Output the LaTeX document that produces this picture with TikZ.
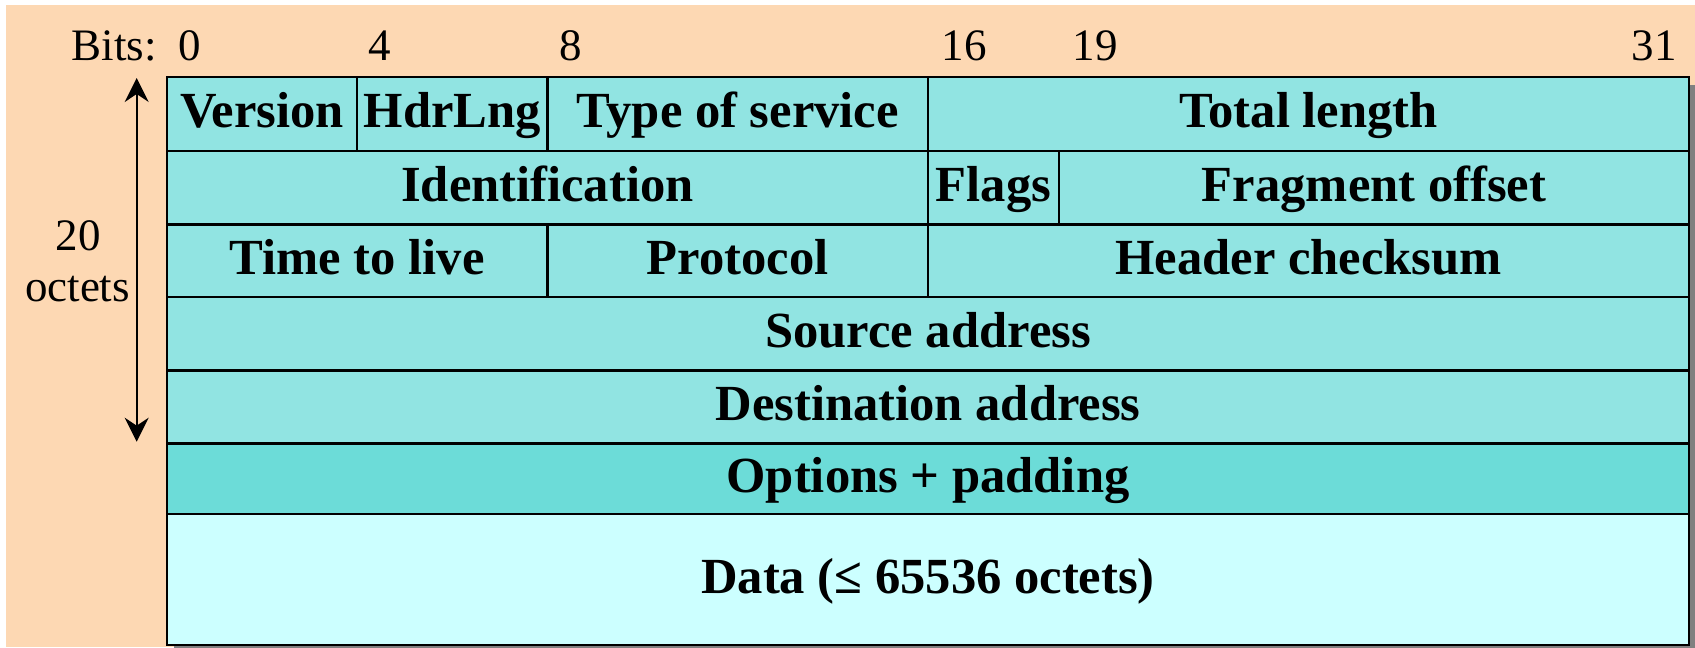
\documentclass[tikz,border=0pt]{standalone}
\usepackage{fontspec}
\setmainfont{Liberation Serif}
\usetikzlibrary{arrows.meta}
\definecolor{peach}{RGB}{253,216,179}
\definecolor{cellc}{RGB}{145,228,226}
\definecolor{optc}{RGB}{108,220,216}
\definecolor{datac}{RGB}{204,255,255}
\definecolor{shadowc}{RGB}{128,128,128}
\newcommand\ipcell[7]{\node[cell, fill=#6, minimum width={(#4-#2)*0.5pt}, minimum height={(#5-#3)*0.5pt}] (#1) at (#2,#3) {#7};}
\begin{document}
\begin{tikzpicture}[x=0.5pt,y=-0.5pt,
  cell/.style={draw=black, line width=1.2pt, rectangle, inner sep=0pt, anchor=north west,
    font=\fontsize{25.3}{30}\selectfont\bfseries, text height=17.5pt, text depth=4pt},
  bitlabel/.style={font=\fontsize{22.5}{27}\selectfont, inner sep=0pt, anchor=base},
  dimarrow/.style={line width=0.9pt, {Stealth[length=12pt,width=12pt,inset=4pt]}-{Stealth[length=12pt,width=12pt,inset=4pt]}}
]
\useasboundingbox (0,0) rectangle (1695,647);
\clip (0,0) rectangle (1695,647);
\fill[white] (0,0) rectangle (1695,647);
\fill[peach] (5.7,5.3) rectangle (1695,647);
\fill[shadowc] (174,85) rectangle (1700,660);
% row 1
\ipcell{ver}{165.7}{76}{356}{150}{cellc}{Version}
\ipcell{hdr}{356}{76}{546.3}{150}{cellc}{HdrLng}
\ipcell{tos}{546.3}{76}{926.8}{150}{cellc}{Type of service}
\ipcell{tlen}{926.8}{76}{1688}{150}{cellc}{Total length}
% row 2
\ipcell{ident}{165.7}{150}{926.8}{223.3}{cellc}{Identification}
\ipcell{flags}{926.8}{150}{1057.7}{223.3}{cellc}{Flags}
\ipcell{frag}{1057.7}{150}{1688}{223.3}{cellc}{Fragment offset}
% row 3
\ipcell{ttl}{165.7}{223.3}{546.3}{295.7}{cellc}{Time to live}
\ipcell{proto}{546.3}{223.3}{926.8}{295.7}{cellc}{Protocol}
\ipcell{hcs}{926.8}{223.3}{1688}{295.7}{cellc}{Header checksum}
% rows 4-7
\ipcell{src}{165.7}{295.7}{1688}{369.3}{cellc}{Source address}
\ipcell{dst}{165.7}{369.3}{1688}{442.3}{cellc}{Destination address}
\ipcell{opt}{165.7}{442.3}{1688}{512.7}{optc}{Options + padding}
\ipcell{data}{165.7}{512.7}{1688}{644}{datac}{Data (≤ 65536 octets)}
% bit labels
\node[bitlabel, anchor=base east] (bits) at (157,61) {Bits:};
\node[bitlabel] (b0) at (190,61) {0};
\node[bitlabel] (b4) at (380,61) {4};
\node[bitlabel] (b8) at (571,61) {8};
\node[bitlabel] (b16) at (964,61) {16};
\node[bitlabel] (b19) at (1095,61) {19};
\node[bitlabel] (b31) at (1654,61) {31};
% size
\node[bitlabel] (n20) at (78,250.7) {20};
\node[bitlabel] (noct) at (77.5,301.7) {octets};
\coordinate (atop) at (136.7,78);
\coordinate (abot) at (136.7,441.7);
\draw[dimarrow] (atop) -- (abot);
\end{tikzpicture}
\end{document}
